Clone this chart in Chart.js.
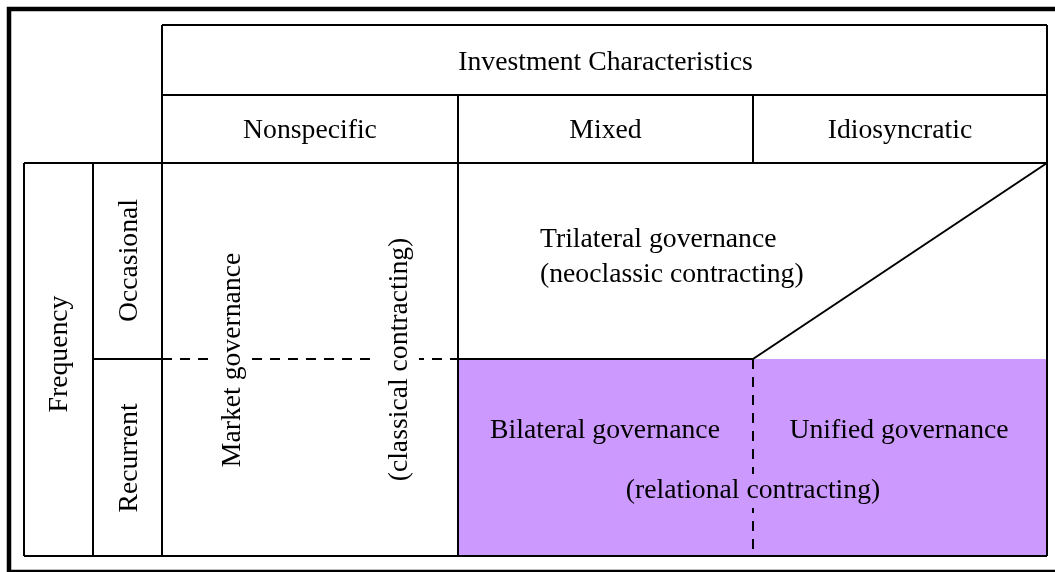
<!DOCTYPE html>
<html>
<head>
<meta charset="utf-8">
<script src="https://cdn.jsdelivr.net/npm/chart.js@4.4.1/dist/chart.umd.min.js"></script>
<style>
	html, body { margin: 0; padding: 0; background: #ffffff; }
	canvas { display: block; }
</style>
</head>
<body>
<canvas id="chart01" width="1055" height="572"></canvas>
<script>
// labels of the diagram
const headerTitle = "Investment Characteristics";
const investmentLabels = ["Nonspecific", "Mixed", "Idiosyncratic"];
const sideTitle = "Frequency";
const frequencyLabels = ["Occasional", "Recurrent"];
const marketLabels = ["Market governance", "(classical contracting)"];
const trilateralLabels = ["Trilateral governance", "(neoclassic contracting)"];
const relationalLabels = ["Bilateral governance", "Unified governance", "(relational contracting)"];

// grid edges, in canvas units
const colX = [24, 93, 162, 458, 753, 1047];
const rowY = [25, 95, 163, 359, 556];

const black = "#000000";
const purple = "rgb(204, 153, 255)";
const font = '27.7px "Liberation Serif", "Times New Roman", serif';

const seg = (x1, y1, x2, y2, dashed, width) => ({
	data: [{ x: x1, y: y1 }, { x: x2, y: y2 }],
	showLine: true,
	borderColor: black,
	borderWidth: width || 2,
	borderDash: dashed ? [10, 8] : [],
	borderCapStyle: "butt",
	pointRadius: 0,
	fill: false,
	order: 1,
});

const [xa, xb, xc, xd, xe, xf] = colX;
const [y0, y1, y2, y3, y4] = rowY;

const datasets = [
	// recurrent, mixed + idiosyncratic area
	{
		data: [{ x: xd, y: y3 }, { x: xf, y: y3 }],
		showLine: true,
		borderWidth: 0,
		pointRadius: 0,
		backgroundColor: purple,
		fill: { target: { value: y4 } },
		order: 5,
	},
	// outer frame
	{
		data: [{ x: 1070, y: 9 }, { x: 9, y: 9 }, { x: 9, y: 572 }, { x: 1070, y: 572 }],
		showLine: true,
		borderColor: black,
		borderWidth: 4.5,
		borderJoinStyle: "miter",
		pointRadius: 0,
		fill: false,
		order: 1,
	},
	seg(xc, y0, xf, y0),
	seg(xc, y1, xf, y1),
	seg(xa, y2, xf, y2),
	seg(xa, y4, xf, y4),
	seg(xc, y0, xc, y4),
	seg(xf, y0, xf, y4),
	seg(xa, y2, xa, y4),
	seg(xb, y2, xb, y4),
	seg(xd, y1, xd, y4),
	seg(xe, y1, xe, y2),
	seg(xb, y3, xc, y3),
	seg(xc, y3, xd, y3, true),
	seg(xd, y3, xe, y3),
	seg(xe, y3, xf, y2),
	seg(xe, y3, xe, y4, true),
];

// text: [label, x, baseline y, align, rotated, background]
const texts = [
	[headerTitle, 605.5, 70, "center", false],
	[investmentLabels[0], 310, 138, "center", false],
	[investmentLabels[1], 605.5, 138, "center", false],
	[investmentLabels[2], 900, 138, "center", false],
	[sideTitle, 66.5, 354, "center", true],
	[frequencyLabels[0], 137, 260.5, "center", true],
	[frequencyLabels[1], 137, 458, "center", true],
	[marketLabels[0], 240, 360, "center", true, "#ffffff"],
	[marketLabels[1], 407, 359.5, "center", true, "#ffffff"],
	[trilateralLabels[0], 540, 247, "left", false],
	[trilateralLabels[1], 540, 282, "left", false],
	[relationalLabels[0], 605, 438, "center", false],
	[relationalLabels[1], 899, 438, "center", false],
	[relationalLabels[2], 753, 498, "center", false, purple],
];

const textPlugin = {
	id: "diagramText",
	afterDatasetsDraw(chart) {
		const { ctx, scales } = chart;
		ctx.save();
		ctx.font = font;
		ctx.textBaseline = "alphabetic";
		texts.forEach(([label, x, y, align, rotated, bg]) => {
			const px = scales.x.getPixelForValue(x);
			const py = scales.y.getPixelForValue(y);
			ctx.save();
			ctx.translate(px, py);
			if (rotated) ctx.rotate(-Math.PI / 2);
			ctx.textAlign = align;
			if (bg) {
				const w = ctx.measureText(label).width;
				const left = align === "center" ? -w / 2 : 0;
				ctx.fillStyle = bg;
				if (rotated) ctx.fillRect(left - 4, -32, w + 8, 44);
				else ctx.fillRect(left - 4, -24, w + 8, 34);
			}
			ctx.fillStyle = black;
			ctx.fillText(label, 0, 0);
			ctx.restore();
		});
		ctx.restore();
	},
};

const config = {
	type: "scatter",
	data: { datasets },
	options: {
		responsive: false,
		devicePixelRatio: 1,
		animation: false,
		events: [],
		layout: { padding: 0 },
		plugins: {
			legend: { display: false },
			tooltip: { enabled: false },
			filler: { drawTime: "beforeDatasetsDraw" },
		},
		scales: {
			x: { type: "linear", min: 0, max: 1055, display: false },
			y: { type: "linear", min: 0, max: 572, reverse: true, display: false },
		},
	},
	plugins: [textPlugin],
};

new Chart(document.querySelector("#chart01"), config);
</script>
</body>
</html>
